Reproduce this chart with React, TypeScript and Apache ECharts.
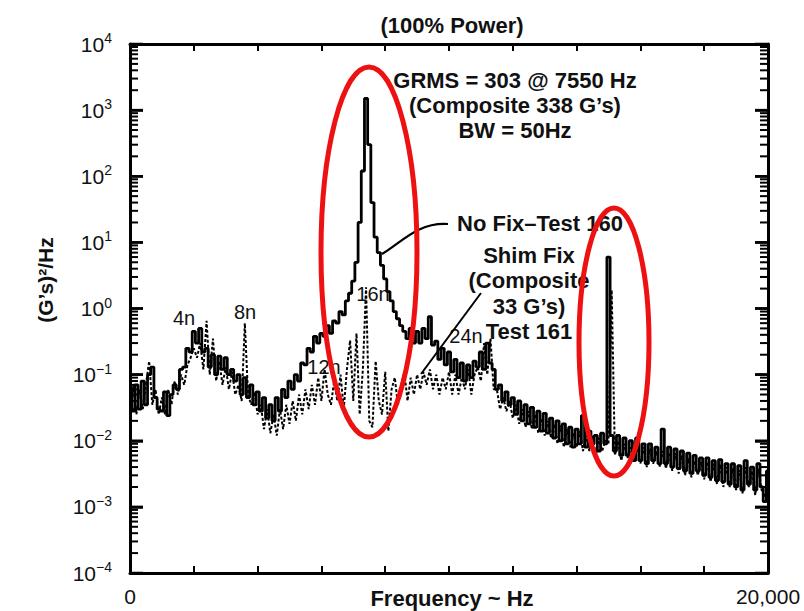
import React, { useEffect, useRef } from "react";
import * as echarts from "echarts";

// Spectrum bin width (Hz) — each value below is one 100 Hz bin starting at 0 Hz
const binHz = 100;

// No Fix – Test 160 (solid), PSD in (G's)^2/Hz, 0..20000 Hz
const noFixTest160 = [
  0.06, 0.028, 0.07, 0.03, 0.08, 0.035, 0.1, 0.13, 0.045, 0.03,
  0.028, 0.055, 0.024, 0.05, 0.07, 0.06, 0.12, 0.13, 0.25, 0.22,
  0.45, 0.3, 0.5, 0.22, 0.25, 0.13, 0.2, 0.1, 0.19, 0.12,
  0.18, 0.1, 0.12, 0.08, 0.1, 0.05, 0.09, 0.045, 0.07, 0.035,
  0.055, 0.028, 0.045, 0.022, 0.035, 0.02, 0.045, 0.028, 0.06, 0.045,
  0.08, 0.06, 0.1, 0.08, 0.15, 0.14, 0.25, 0.22, 0.38, 0.3,
  0.42, 0.38, 0.55, 0.42, 0.65, 0.6, 0.9, 0.8, 1.3, 1.7,
  2.6, 5, 20, 120, 1500, 300, 40, 12, 7, 4.5,
  2.8, 1.8, 1.3, 0.9, 0.7, 0.55, 0.45, 0.35, 0.5, 0.3,
  0.45, 0.3, 0.5, 0.35, 0.75, 0.28, 0.32, 0.17, 0.25, 0.14,
  0.22, 0.11, 0.17, 0.09, 0.15, 0.08, 0.14, 0.09, 0.16, 0.13,
  0.22, 0.12, 0.3, 0.15, 0.12, 0.06, 0.07, 0.04, 0.055, 0.035,
  0.045, 0.025, 0.04, 0.02, 0.035, 0.018, 0.032, 0.016, 0.028, 0.014,
  0.026, 0.013, 0.022, 0.011, 0.02, 0.01, 0.018, 0.009, 0.016, 0.008,
  0.015, 0.009, 0.024, 0.008, 0.014, 0.009, 0.012, 0.007, 0.013, 0.009,
  6, 0.012, 0.007, 0.012, 0.006, 0.011, 0.006, 0.01, 0.005, 0.011,
  0.005, 0.009, 0.0045, 0.009, 0.005, 0.008, 0.0045, 0.015, 0.0045, 0.008,
  0.004, 0.0075, 0.0038, 0.007, 0.0035, 0.0065, 0.0032, 0.006, 0.0035, 0.0055,
  0.003, 0.0055, 0.0028, 0.005, 0.0025, 0.0052, 0.0024, 0.0045, 0.0022, 0.0045,
  0.002, 0.0042, 0.0018, 0.005, 0.0022, 0.004, 0.0018, 0.0045, 0.002, 0.0012,
  0.0035,
];

// Shim Fix – Test 161 (dashed)
const shimFixTest161 = [
  0.035, 0.07, 0.025, 0.06, 0.03, 0.07, 0.16, 0.035, 0.06, 0.025,
  0.045, 0.025, 0.06, 0.035, 0.08, 0.05, 0.1, 0.07, 0.14, 0.18,
  0.25, 0.18, 0.3, 0.12, 0.65, 0.1, 0.35, 0.08, 0.16, 0.07,
  0.13, 0.06, 0.11, 0.05, 0.07, 0.04, 0.6, 0.05, 0.035, 0.055,
  0.025, 0.035, 0.015, 0.03, 0.013, 0.025, 0.012, 0.03, 0.015, 0.035,
  0.018, 0.04, 0.02, 0.05, 0.025, 0.06, 0.03, 0.07, 0.035, 0.09,
  0.04, 0.12, 0.05, 0.035, 0.08, 0.04, 0.1, 0.03, 0.12, 0.33,
  0.04, 0.42, 0.025, 0.12, 2.1, 0.02, 0.016, 0.16, 0.04, 0.025,
  0.11, 0.014, 0.06, 0.09, 0.035, 0.07, 0.11, 0.04, 0.09, 0.05,
  0.1, 0.06, 0.11, 0.07, 0.12, 0.06, 0.1, 0.05, 0.09, 0.06,
  0.11, 0.05, 0.1, 0.05, 0.09, 0.06, 0.12, 0.05, 0.1, 0.13,
  0.08, 0.3, 0.1, 0.35, 0.06, 0.06, 0.03, 0.045, 0.028, 0.04,
  0.022, 0.035, 0.018, 0.03, 0.016, 0.028, 0.015, 0.025, 0.013, 0.022,
  0.012, 0.02, 0.011, 0.018, 0.009, 0.017, 0.008, 0.015, 0.008, 0.013,
  0.008, 0.014, 0.007, 0.012, 0.007, 0.012, 0.006, 0.011, 0.007, 0.01,
  0.009, 1.9, 0.006, 0.01, 0.005, 0.009, 0.0055, 0.008, 0.005, 0.0085,
  0.0045, 0.008, 0.004, 0.0075, 0.0045, 0.007, 0.004, 0.007, 0.0038, 0.0065,
  0.0035, 0.0065, 0.0032, 0.006, 0.003, 0.0055, 0.0028, 0.005, 0.003, 0.0048,
  0.0026, 0.0048, 0.0024, 0.0045, 0.0022, 0.0044, 0.002, 0.004, 0.002, 0.0038,
  0.0018, 0.0036, 0.0016, 0.004, 0.002, 0.0035, 0.0015, 0.0038, 0.0018, 0.0014,
  0.003,
];

// Axis ranges / labels
const xMin = 0;
const xMax = 20000;
const xTickStep = 2000;
const xTickLabels: Record<number, string> = { 0: "0", 20000: "20,000" };
const xAxisTitle = "Frequency ~ Hz";
const yAxisTitle = "(G’s)²/Hz";
const yMin = 1e-4;
const yMax = 1e4;
const yDecadeExponents = [-4, -3, -2, -1, 0, 1, 2, 3, 4];
const minorMultipliers = [2, 3, 4, 5, 6, 7, 8, 9];

// Annotation texts
const titleText = "(100% Power)";
const grmsLines = ["GRMS = 303 @ 7550 Hz", "(Composite 338 G’s)", "BW = 50Hz"];
const noFixLabel = "No Fix–Test 160";
const shimLines = ["Shim Fix", "(Composite", "33 G’s)", "Test 161"];
const harmonicLabels = ["4n", "8n", "12n", "16n", "24n"];

const FONT = "'Liberation Sans', Arial, Helvetica, sans-serif";
const INK = "#111";

const GRID = { left: 130, top: 44, right: 36, bottom: 38 };
const W = 804;
const H = 611;

const majorTickValues = yDecadeExponents.map((e) => Math.pow(10, e));
function minorTickValues(): number[] {
  const out: number[] = [];
  for (let k = 0; k < yDecadeExponents.length - 1; k++) {
    const base = Math.pow(10, yDecadeExponents[k]);
    minorMultipliers.forEach((m) => out.push(m * base));
  }
  return out;
}

export default function App() {
  const ref = useRef<HTMLDivElement>(null);

  useEffect(() => {
    if (!ref.current) return;
    const chart = echarts.init(ref.current, undefined, { renderer: "svg" });

    const supFmt = (v: number) => {
      const e = Math.round(Math.log10(v));
      const s = e < 0 ? "−" + String(-e) : String(e);
      return `{b|10}{s|${s}}`;
    };

    const bold = (size: number) => ({
      fontSize: size,
      fontWeight: "bold",
      fontFamily: FONT,
      fill: INK,
      textAlign: "center",
      textVerticalAlign: "middle",
    });

    const minor = minorTickValues();

    const graphic: any[] = [
      { type: "text", x: 452, y: 25, style: { text: titleText, ...bold(22) } },
      { type: "text", x: 452, y: 598, style: { text: xAxisTitle, ...bold(22) } },
      {
        type: "text",
        x: 45,
        y: 280,
        rotation: Math.PI / 2,
        style: { text: yAxisTitle, ...bold(21) },
      },
      ...grmsLines.map((t, k) => ({
        type: "text",
        x: 515,
        y: 80 + k * 25,
        z: 20,
        style: { text: t, ...bold(22) },
      })),
      {
        type: "text",
        x: 457,
        y: 223,
        z: 20,
        style: { text: noFixLabel, ...bold(22), textAlign: "left" },
      },
      ...shimLines.map((t, k) => ({
        type: "text",
        x: 529,
        y: 255 + k * 25.5,
        z: 20,
        style: { text: t, ...bold(22) },
      })),
      ...[
        [184, 318],
        [245, 312],
        [324, 367],
        [373, 294],
        [466, 336],
      ].map(([x, y], k) => ({
        type: "text",
        x,
        y,
        z: 20,
        style: {
          text: harmonicLabels[k],
          fontSize: 20,
          fontFamily: FONT,
          fill: INK,
          textAlign: "center",
          textVerticalAlign: "middle",
        },
      })),
      {
        type: "bezierCurve",
        z: 20,
        shape: { x1: 448, y1: 224, cpx1: 418, cpy1: 222, cpx2: 402, cpy2: 242, x2: 382, y2: 254 },
        style: { stroke: "#000", lineWidth: 2.2, fill: "none" },
      },
      {
        type: "line",
        z: 20,
        shape: { x1: 481, y1: 293, x2: 421, y2: 374 },
        style: { stroke: "#000", lineWidth: 2 },
      },
      {
        type: "ellipse",
        z: 30,
        shape: { cx: 369, cy: 252, rx: 48, ry: 185 },
        style: { stroke: "#ee1111", lineWidth: 5, fill: "none" },
      },
      {
        type: "ellipse",
        z: 30,
        shape: { cx: 614, cy: 342, rx: 35, ry: 134 },
        style: { stroke: "#ee1111", lineWidth: 5, fill: "none" },
      },
    ];

    // Frame ticks of the log axis (decades long, 2..9 short) drawn through the axis scale
    const tickSeries = (name: string, vals: number[], len: number, w: number) => ({
      name,
      type: "custom",
      clip: false,
      z: 8,
      encode: { x: 0, y: 1 },
      data: vals.map((v) => [xMin, v]),
      renderItem: (_p: any, api: any) => {
        const pl = api.coord([xMin, api.value(1)]);
        const pr = api.coord([xMax, api.value(1)]);
        return {
          type: "group",
          children: [
            { type: "rect", shape: { x: pl[0], y: pl[1] - w / 2, width: len, height: w }, style: { fill: "#000" } },
            { type: "rect", shape: { x: pr[0] - len, y: pr[1] - w / 2, width: len, height: w }, style: { fill: "#000" } },
          ],
        };
      },
    });

    const option: any = {
      animation: false,
      grid: { ...GRID, outerBoundsMode: "none" },
      xAxis: [
        {
          type: "value",
          position: "bottom",
          min: xMin,
          max: xMax,
          interval: xTickStep,
          axisLine: { show: true, onZero: false, lineStyle: { color: "#000", width: 3 } },
          axisTick: { show: true, inside: true, length: 7, lineStyle: { color: "#000", width: 2 } },
          splitLine: { show: false },
          axisLabel: {
            show: true,
            margin: 13,
            fontSize: 21,
            fontFamily: FONT,
            color: INK,
            formatter: (v: number) => xTickLabels[v] ?? "",
          },
        },
        {
          type: "value",
          position: "top",
          min: xMin,
          max: xMax,
          interval: xTickStep,
          axisLine: { show: true, onZero: false, lineStyle: { color: "#000", width: 3 } },
          axisTick: { show: true, inside: true, length: 7, lineStyle: { color: "#000", width: 2 } },
          splitLine: { show: false },
          axisLabel: { show: false },
        },
      ],
      yAxis: [
        {
          type: "log",
          position: "left",
          min: yMin,
          max: yMax,
          splitNumber: 8,
          axisLine: { show: true, onZero: false, lineStyle: { color: "#000", width: 3 } },
          axisTick: { show: true, inside: true, length: 13, lineStyle: { color: "#000", width: 2.5 } },
          splitLine: { show: false },
          axisLabel: {
            show: true,
            margin: 18,
            formatter: supFmt,
            rich: {
              b: { fontSize: 21, fontFamily: FONT, color: INK, lineHeight: 26 },
              s: { fontSize: 14, fontFamily: FONT, color: INK, verticalAlign: "top", lineHeight: 14 },
            },
          },
        },
        {
          type: "log",
          position: "right",
          min: yMin,
          max: yMax,
          splitNumber: 8,
          axisLine: { show: true, onZero: false, lineStyle: { color: "#000", width: 3 } },
          axisTick: { show: true, inside: true, length: 13, lineStyle: { color: "#000", width: 2.5 } },
          splitLine: { show: false },
          axisLabel: { show: false },
        },
      ],
      series: [
        {
          name: "Shim Fix – Test 161",
          type: "line",
          xAxisIndex: 0,
          yAxisIndex: 0,
          symbol: "none",
          lineStyle: { color: "#000", width: 2, type: [3, 2] },
          data: shimFixTest161.map((v, i) => [i * binHz, v]),
          z: 2,
        },
        {
          name: "No Fix – Test 160",
          type: "line",
          xAxisIndex: 0,
          yAxisIndex: 0,
          symbol: "none",
          step: "middle",
          lineStyle: { color: "#000", width: 2.8 },
          data: noFixTest160.map((v, i) => [i * binHz, v]),
          z: 3,
        },
        tickSeries("decade ticks", majorTickValues, 13, 2.5),
        tickSeries("minor ticks", minor, 8, 2),
      ],
      graphic,
    };

    chart.setOption(option);
    return () => chart.dispose();
  }, []);

  return (
    <div
      ref={ref}
      style={{ position: "fixed", left: 0, top: 0, width: W, height: H, background: "#fff" }}
    />
  );
}
